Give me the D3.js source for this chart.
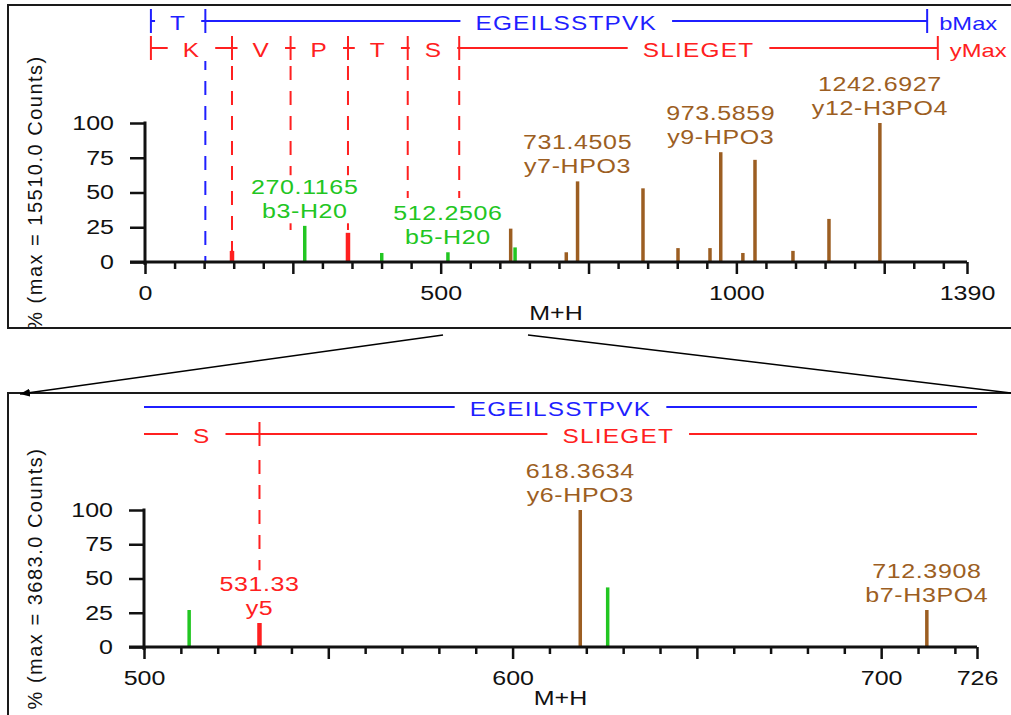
<!DOCTYPE html>
<html>
<head>
<meta charset="utf-8">
<script src="https://cdn.jsdelivr.net/npm/d3@7"></script>
<style>
  body { margin: 0; background: #fff; }
  svg { display: block; }
</style>
</head>
<body>
<svg id="chart" width="1011" height="715"></svg>
<script>
// ---------- spectrum data ----------
// Full scan (upper panel): intensity in % of 15510 counts
const topMz  = [147.11, 343.23, 270.1165, 400.3, 512.2506, 625.8, 618.3634, 712.3908, 731.4505, 842.1, 901.3, 955.4, 973.5859, 1011.0, 1031.5, 1095.7, 1156.6, 1242.6927];
const topPct = [8, 21, 26, 6.5, 7, 10.5, 24, 7, 58, 53, 10, 10, 79, 6.5, 73.5, 8, 31, 100];
const topIon = ["y", "y", "b", "b", "b", "b", "n", "n", "n", "n", "n", "n", "n", "n", "n", "n", "n", "n"];
const topLabelMz   = ["270.1165", "512.2506", "731.4505", "973.5859", "1242.6927"];
const topLabelName = ["b3-H20", "b5-H20", "y7-HPO3", "y9-HPO3", "y12-H3PO4"];

// Zoomed region 500-726 (lower panel): intensity in % of 3683 counts
const botMz  = [512.2506, 531.33, 618.3634, 625.8, 712.3908];
const botPct = [27, 17.5, 100, 43.5, 27];
const botIon = ["b", "y", "n", "b", "n"];
const botLabelMz   = ["531.33", "618.3634", "712.3908"];
const botLabelName = ["y5", "y6-HPO3", "b7-H3PO4"];

// Fragment ladders of TEGEILSSTPVK (b series left-to-right, y series right-to-left)
const bLadderMz  = [10, 102.05, 1322.62];
const bLadderRes = ["T", "EGEILSSTPVK"];
const yLadderMz  = [10, 147.11, 246.18, 343.23, 444.28, 531.33, 1340.64];
const yLadderRes = ["K", "V", "P", "T", "S", "SLIEGET"];

// Dashed guides dropped from ladder boundaries (end height in %)
const topGuideMz  = [102.05, 147.11, 246.18, 343.23, 444.28, 531.33];
const topGuideEnd = [0, 8, 16, 21, 46, 46];
const topGuideIon = ["b", "y", "y", "y", "y", "y"];
const botGuideMz  = [531.33];
const botGuideEnd = [56];
const botGuideIon = ["y"];

// Axis ticks
const topXLabels = [0, 500, 1000, 1390];
const botXLabels = [500, 600, 700, 726];
const yTicks = [0, 25, 50, 75, 100];

// ---------- styling ----------
const SX = 1.25;                       // horizontal text stretch
const FONT = "'Liberation Sans', Arial, sans-serif";
const INK = "#111";
const ionColor = { y: "#ff2020", b: "#22c622", n: "#9c5e22" };
const ladderBlue = "#1f1fff";
const ladderRed = "#ff2020";

const svg = d3.select("#chart");

function sText(parent, x, y, str, opt = {}) {
  const { size = 20, anchor = "middle", color = INK, ls = 0 } = opt;
  return parent.append("text")
    .attr("transform", `translate(${x},${y}) scale(${SX},1)`)
    .attr("text-anchor", anchor)
    .attr("dy", "0.35em")
    .attr("font-family", FONT)
    .attr("font-size", size)
    .attr("letter-spacing", ls)
    .attr("fill", color)
    .text(str);
}

function drawLadder(layer, x, bounds, names, yLine, color, maxLabel) {
  const [d0, d1] = x.domain();
  const lg = layer.append("g");
  const segs = [];
  names.forEach((name, i) => {
    const a = Math.max(bounds[i], d0), c = Math.min(bounds[i + 1], d1);
    if (a >= c) return;
    segs.push({ name, a, c });
    lg.append("line")
      .attr("x1", x(a)).attr("x2", x(c))
      .attr("y1", yLine).attr("y2", yLine)
      .attr("stroke", color).attr("stroke-width", 2);
  });
  bounds.filter(b => b >= d0 && b <= d1).forEach(b => {
    lg.append("line")
      .attr("x1", x(b)).attr("x2", x(b))
      .attr("y1", yLine - 12).attr("y2", yLine + 12)
      .attr("stroke", color).attr("stroke-width", 2);
  });
  segs.forEach(s => {
    const mid = (x(s.a) + x(s.c)) / 2;
    const t = sText(lg, mid, yLine + 2, s.name, { size: 19.5, color, ls: 1 });
    const w = t.node().getComputedTextLength() * SX;
    lg.insert("rect", () => t.node())
      .attr("x", mid - w / 2 - 15).attr("width", w + 30)
      .attr("y", yLine - 13).attr("height", 26)
      .attr("fill", "#fff");
  });
  const last = bounds[bounds.length - 1];
  if (maxLabel && last <= d1) {
    sText(lg, x(last) + 12, yLine + 2, maxLabel, { size: 19, color, anchor: "start", ls: 0 });
  }
}

function drawPanel(cfg) {
  const g = svg.append("g");
  const clipId = "clip-" + cfg.id;
  g.append("clipPath").attr("id", clipId)
    .append("rect").attr("x", cfg.box[0]).attr("y", cfg.box[1])
    .attr("width", cfg.box[2]).attr("height", cfg.box[3]);

  const body = g.append("g").attr("clip-path", `url(#${clipId})`);

  const x = d3.scaleLinear().domain(cfg.domain).range(cfg.xRange);
  const y = d3.scaleLinear().domain([0, 100]).range(cfg.yRange);

  // dashed guides
  body.append("g").selectAll("line")
    .data(cfg.guideMz.map((m, i) => ({ m, end: cfg.guideEnd[i], ion: cfg.guideIon[i] })))
    .join("line")
    .attr("x1", d => x(d.m)).attr("x2", d => x(d.m))
    .attr("y1", d => d.ion === "b" ? cfg.guideTopB : cfg.guideTopY)
    .attr("y2", d => y(d.end))
    .attr("stroke", d => d.ion === "b" ? ladderBlue : ladderRed)
    .attr("stroke-width", 2)
    .attr("stroke-dasharray", "14,11");

  // peaks
  const peaks = cfg.mz.map((m, i) => ({ m, p: cfg.pct[i], ion: cfg.ion[i] }));
  body.append("g").selectAll("line")
    .data(peaks)
    .join("line")
    .attr("x1", d => x(d.m)).attr("x2", d => x(d.m))
    .attr("y1", y(0)).attr("y2", d => y(d.p))
    .attr("stroke", d => ionColor[d.ion])
    .attr("stroke-width", d => d.ion === "y" ? 4.5 : 3.5);

  // peak annotations
  const labLayer = body.append("g");
  cfg.labelMz.forEach((s, i) => {
    const m = +s;
    const pk = peaks.find(d => Math.abs(d.m - m) < 1e-6);
    const lg = labLayer.append("g");
    const px = x(m), top = y(pk.p);
    sText(lg, px, top - 39, s, { color: ionColor[pk.ion], ls: 0.5 });
    sText(lg, px, top - 15, cfg.labelName[i], { color: ionColor[pk.ion], ls: 0.5 });
    const bb = lg.node().getBBox();
    lg.insert("rect", ":first-child")
      .attr("x", bb.x - 2).attr("y", bb.y - 1)
      .attr("width", bb.width + 4).attr("height", bb.height + 2)
      .attr("fill", "#fff");
  });

  // fragment ladders
  drawLadder(body, x, bLadderMz, bLadderRes, cfg.ladderB, ladderBlue, cfg.showMax ? "bMax" : null);
  drawLadder(body, x, yLadderMz, yLadderRes, cfg.ladderY, ladderRed, cfg.showMax ? "yMax" : null);

  // x axis
  const [d0, d1] = cfg.domain;
  const minor = d3.range(d0, d1 + 1e-9, cfg.minorStep);
  if (minor[minor.length - 1] !== d1) minor.push(d1);
  const isMajor = d => d === d0 || d === d1 || Math.abs(d / cfg.majorStep - Math.round(d / cfg.majorStep)) < 1e-9;
  const labelSet = new Set(cfg.xLabels);

  const xAxis = body.append("g")
    .attr("transform", `translate(0,${y(0)})`)
    .call(d3.axisBottom(x).tickValues(minor).tickSize(7).tickSizeOuter(0)
      .tickFormat(d => labelSet.has(d) ? d3.format("d")(d) : ""));
  xAxis.select(".domain").remove();
  xAxis.selectAll(".tick line")
    .attr("y2", d => isMajor(d) ? 12 : 7)
    .attr("stroke", INK).attr("stroke-width", 2.5);
  xAxis.selectAll(".tick text")
    .attr("y", 24).attr("dy", "0.71em")
    .attr("transform", `scale(${SX},1)`)
    .attr("font-family", FONT).attr("font-size", 20).attr("fill", INK);

  // y axis
  const yAxis = body.append("g")
    .attr("transform", `translate(${x(d0)},0)`)
    .call(d3.axisLeft(y).tickValues(yTicks).tickSize(15).tickSizeOuter(0));
  yAxis.select(".domain").remove();
  yAxis.selectAll(".tick line").attr("stroke", INK).attr("stroke-width", 2.5);
  yAxis.selectAll(".tick text")
    .attr("x", -31 / SX)
    .attr("transform", `scale(${SX},1)`)
    .attr("font-family", FONT).attr("font-size", 20).attr("fill", INK);

  // axis lines
  body.append("line")
    .attr("x1", x(d0) - 15).attr("x2", x(d1))
    .attr("y1", y(0)).attr("y2", y(0))
    .attr("stroke", INK).attr("stroke-width", 3);
  body.append("line")
    .attr("x1", x(d0)).attr("x2", x(d0))
    .attr("y1", y(100) - 1.5).attr("y2", y(0) + 3)
    .attr("stroke", INK).attr("stroke-width", 3);

  // axis titles
  sText(body, (cfg.xRange[0] + cfg.xRange[1]) / 2, y(0) + 51, "M+H", { size: 20 });
  const yc = (cfg.yRange[0] + cfg.yRange[1]) / 2;
  body.append("text")
    .attr("transform", `translate(${cfg.yTitleX},${yc}) rotate(-90)`)
    .attr("text-anchor", "middle").attr("dy", "0.35em")
    .attr("font-family", FONT).attr("font-size", 20)
    .attr("letter-spacing", 1.5).attr("fill", INK)
    .text(cfg.yTitle);

  // panel frame
  g.append("rect")
    .attr("x", cfg.box[0]).attr("y", cfg.box[1])
    .attr("width", cfg.box[2]).attr("height", cfg.box[3])
    .attr("fill", "none").attr("stroke", "#1a1a1a").attr("stroke-width", 2);

  return x;
}

drawPanel({
  id: "top", box: [8, 5, 1020, 323],
  domain: [0, 1390], xRange: [145, 967], yRange: [262, 123],
  minorStep: 50, majorStep: 250, xLabels: topXLabels,
  mz: topMz, pct: topPct, ion: topIon,
  labelMz: topLabelMz, labelName: topLabelName,
  guideMz: topGuideMz, guideEnd: topGuideEnd, guideIon: topGuideIon,
  guideTopB: 56, guideTopY: 66,
  ladderB: 21, ladderY: 48, showMax: true,
  yTitle: "% (max = 15510.0 Counts)", yTitleX: 35
});

drawPanel({
  id: "bot", box: [8, 393, 1020, 340],
  domain: [500, 726], xRange: [144, 977], yRange: [647, 510],
  minorStep: 10, majorStep: 50, xLabels: botXLabels,
  mz: botMz, pct: botPct, ion: botIon,
  labelMz: botLabelMz, labelName: botLabelName,
  guideMz: botGuideMz, guideEnd: botGuideEnd, guideIon: botGuideIon,
  guideTopB: 460, guideTopY: 460,
  ladderB: 407, ladderY: 434, showMax: false,
  yTitle: "% (max = 3683.0 Counts)", yTitleX: 35
});

// zoom connectors between the panels
const defs = svg.append("defs");
defs.append("marker")
  .attr("id", "arrowhead").attr("viewBox", "0 0 10 8")
  .attr("refX", 10).attr("refY", 4)
  .attr("markerWidth", 10).attr("markerHeight", 8)
  .attr("markerUnits", "userSpaceOnUse")
  .attr("orient", "auto")
  .append("path").attr("d", "M0,0 L10,4 L0,8 Z").attr("fill", "#000");

svg.append("line")
  .attr("x1", 443).attr("y1", 335).attr("x2", 20).attr("y2", 394)
  .attr("stroke", "#000").attr("stroke-width", 1.5)
  .attr("marker-end", "url(#arrowhead)");
svg.append("line")
  .attr("x1", 528).attr("y1", 335).attr("x2", 1011).attr("y2", 393)
  .attr("stroke", "#000").attr("stroke-width", 1.5);
</script>
</body>
</html>
